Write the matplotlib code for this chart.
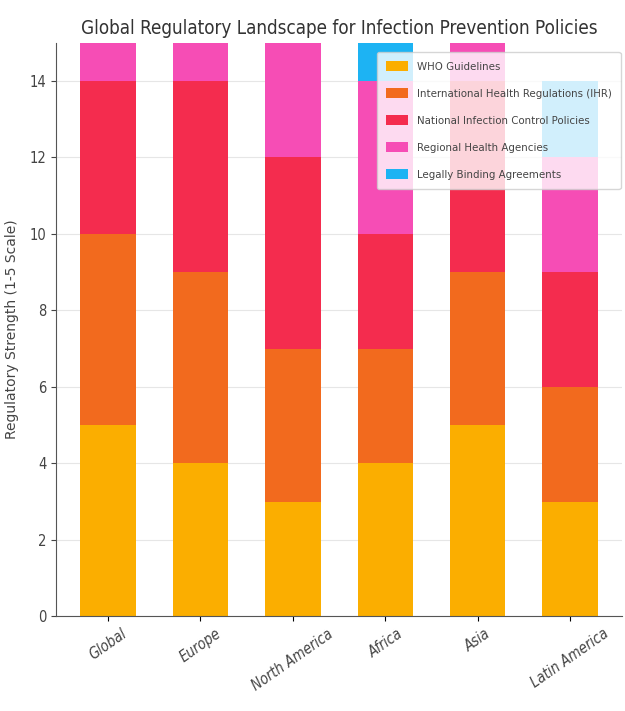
import numpy as np
import matplotlib
matplotlib.use("Agg")
import matplotlib.pyplot as plt

# regions and policy layers (top layers clipped at 15)
regions = ['Global', 'Europe', 'North America', 'Africa', 'Asia', 'Latin America']
who = [5, 4, 3, 4, 5, 3]
ihr = [5, 5, 4, 3, 4, 3]
national = [4, 5, 5, 3, 5, 3]
regional = [4, 3, 4, 4, 3, 3]
binding = [3, 4, 3, 2, 2, 2]

labels = ['WHO Guidelines', 'International Health Regulations (IHR)',
          'National Infection Control Policies', 'Regional Health Agencies',
          'Legally Binding Agreements']
colors = ['#FBAE00', '#F26A1E', '#F42C4E', '#F64DB5', '#1DB3F3']

layers = [who, ihr, national, regional, binding]

plt.rcParams['font.stretch'] = 'condensed'

fig, ax = plt.subplots(figsize=(6.25, 7.11), dpi=100)
x = np.arange(len(regions))
bottom = np.zeros(len(regions))
for vals, lab, col in zip(layers, labels, colors):
    ax.bar(x, vals, 0.6, bottom=bottom, label=lab, color=col, zorder=2)
    bottom += np.array(vals)

ax.set_ylim(0, 15)
ax.set_xlim(-0.56, 5.56)
ax.set_xticks(x)
ax.set_xticklabels(regions, rotation=35, ha='center', fontstyle='italic', color='#444444',
                   fontsize=10.5)
ax.set_yticks(range(0, 15, 2))
ax.tick_params(axis='y', colors='#444444', labelsize=10.5)
ax.yaxis.grid(True, color='#e6e6e6', zorder=0)
ax.spines['top'].set_visible(False)
ax.spines['right'].set_visible(False)
ax.spines['left'].set_color('#555555')
ax.spines['bottom'].set_color('#555555')

ax.set_ylabel('Regulatory Strength (1-5 Scale)', color='#444444', fontsize=10, labelpad=8,
              fontstretch='normal')
ax.set_title('Global Regulatory Landscape for Infection Prevention Policies',
             fontsize=13.5, color='#333333')

leg = ax.legend(loc='upper right', fontsize=8.2, framealpha=0.8,
                bbox_to_anchor=(1.008, 0.994), handlelength=1.9, handleheight=1.0,
                labelspacing=1.4, borderpad=0.8)
for t in leg.get_texts():
    t.set_color('#444444')

fig.subplots_adjust(left=0.09, right=0.995, top=0.94, bottom=0.133)
fig.savefig('out.png')
